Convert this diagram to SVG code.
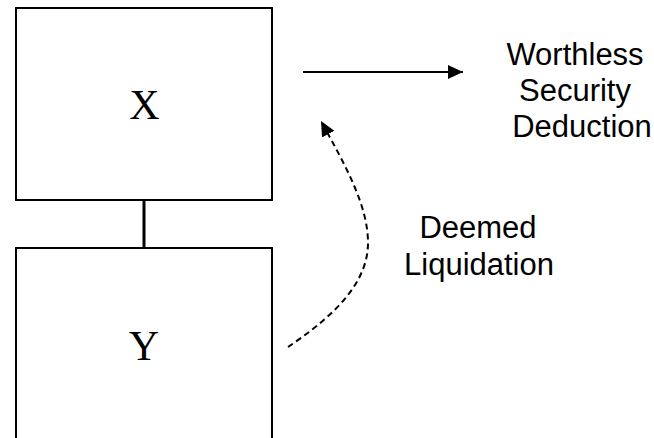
<svg xmlns="http://www.w3.org/2000/svg" width="654" height="438" viewBox="0 0 654 438">
<style>
.box{fill:#fff;stroke:#000;stroke-width:2}
.serif{font-family:"Liberation Serif","Times New Roman",serif;font-size:42px;fill:#000;text-anchor:middle}
.sans{font-family:"Liberation Sans",Arial,sans-serif;font-size:31px;fill:#000;text-anchor:middle}
.ln{fill:none;stroke:#000;stroke-width:2}
</style>
<defs>
<marker id="ah" markerUnits="userSpaceOnUse" markerWidth="16" markerHeight="16" viewBox="0 0 16 16" refX="15" refY="8" orient="auto">
<path d="M0,1 L15,8 L0,15 Z" fill="#000"/>
</marker>
</defs>
<rect width="654" height="438" fill="#fff"/>
<g id="connectors">
<line class="ln" x1="144" y1="200" x2="144" y2="248" style="stroke-width:3"/>
<line class="ln" x1="303" y1="72" x2="463" y2="72" marker-end="url(#ah)"/>
<path class="ln" d="M288,347 C320,325 368,290 368,243 C368,205 345,165 321,121" stroke-dasharray="6,4" marker-end="url(#ah)"/>
</g>
<g id="node-x">
<rect class="box" x="16" y="8" width="256" height="192"/>
<text class="serif" x="144.5" y="119">X</text>
</g>
<g id="node-y">
<rect class="box" x="16" y="248" width="256" height="230"/>
<text class="serif" x="144" y="360">Y</text>
</g>
<g id="label-worthless">
<text class="sans" x="575" y="65">Worthless</text>
<text class="sans" x="575" y="101">Security</text>
<text class="sans" x="582" y="137">Deduction</text>
</g>
<g id="label-deemed">
<text class="sans" x="478" y="238">Deemed</text>
<text class="sans" x="479" y="275">Liquidation</text>
</g>
</svg>
